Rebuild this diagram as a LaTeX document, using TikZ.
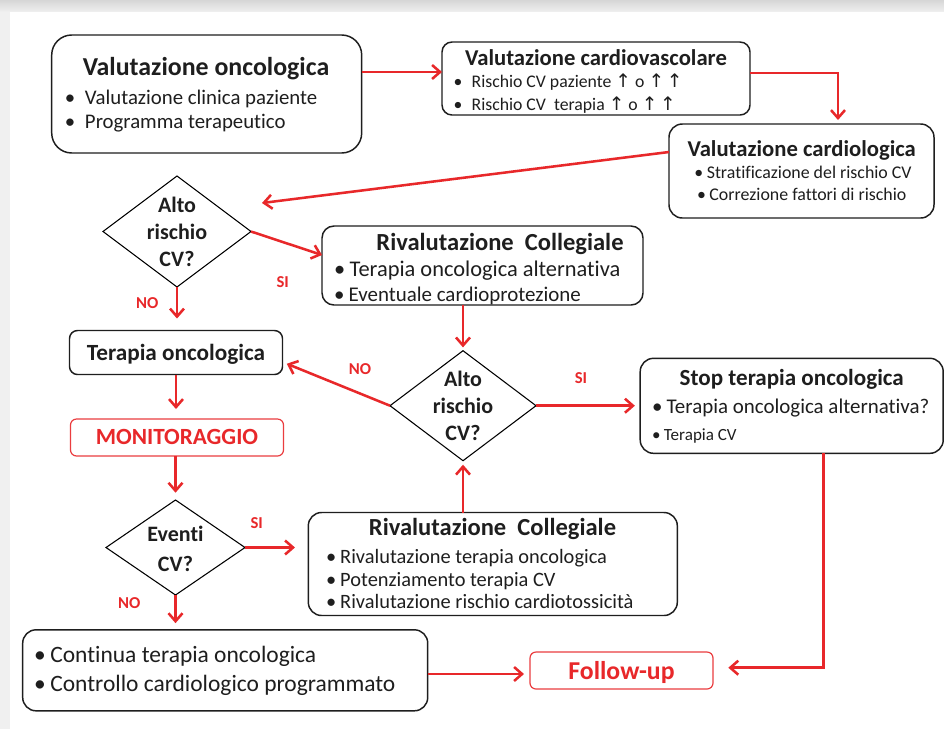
\documentclass[tikz,border=0pt]{standalone}
\usepackage{fontspec}
\setmainfont{Carlito}[Ligatures=NoCommon]
\newfontfamily\arrowfont{DejaVu Sans}
\usetikzlibrary{shapes.geometric,arrows.meta,calc}
\definecolor{ared}{RGB}{232,40,42}
\definecolor{txtc}{RGB}{30,30,30}
\def\pxl{0.75pt}
\newcommand{\fsz}[2]{\fontsize{#1}{#2}\selectfont}
\newcommand{\upar}{{\arrowfont\fontsize{14}{16}\selectfont↑}}
\begin{document}
\begin{tikzpicture}[x=0.75pt,y=-0.75pt,
 box/.style={draw=txtc, line width=1.1pt, inner sep=0pt, outer sep=0pt, fill=white},
 rbox/.style={draw=ared!90, line width=0.9pt, rounded corners=4.5pt, inner sep=0pt, outer sep=0pt},
 dia/.style={diamond, draw=black, line width=0.8pt, inner sep=0pt, outer sep=0pt},
 tx/.style={inner sep=0pt, outer sep=0pt, text=txtc},
 arr/.style={draw=ared, line width=1.9pt, -{Straight Barb[length=6pt,width=10.5pt,line width=1.9pt]}},
 lab/.style={inner sep=0pt, text=ared, font=\fsz{12.5}{15}\bfseries},
]
\useasboundingbox (0,0) rectangle (944,729);
% frame
\fill[gray!12] (0,0) rectangle (944,729);
\shade[top color=gray!32, bottom color=gray!12] (0,0) rectangle (944,12);
\fill[white] (10,12) rectangle (944,729);

% boxes
\node[box, rounded corners=15pt, minimum width=310*\pxl, minimum height=118*\pxl] (A) at (206.7,94) {};
\node[box, rounded corners=7.5pt, minimum width=308*\pxl, minimum height=73*\pxl] (B) at (596,78.5) {};
\node[box, rounded corners=10pt, minimum width=265*\pxl, minimum height=94*\pxl] (C) at (801.5,171) {};
\node[box, rounded corners=9pt, minimum width=321*\pxl, minimum height=79*\pxl] (RC1) at (482.5,265.5) {};
\node[box, rounded corners=6pt, minimum width=213*\pxl, minimum height=44*\pxl] (T) at (176,352.5) {};
\node[rbox, minimum width=213*\pxl, minimum height=37*\pxl] (MON) at (177,437.5) {};
\node[box, rounded corners=10pt, minimum width=303*\pxl, minimum height=95*\pxl] (S) at (791.7,405.8) {};
\node[box, rounded corners=10pt, minimum width=369*\pxl, minimum height=103*\pxl] (RC2) at (492.8,564) {};
\node[box, rounded corners=10pt, minimum width=405*\pxl, minimum height=81*\pxl] (F) at (225.2,670.3) {};
\node[rbox, minimum width=183*\pxl, minimum height=37*\pxl] (FU) at (621.5,670.5) {};

% diamonds
\node[dia, minimum width=148*\pxl, minimum height=111*\pxl] (D1) at (177,231.5) {};
\node[dia, minimum width=146*\pxl, minimum height=110*\pxl] (D2) at (463,405.7) {};
\node[dia, minimum width=139*\pxl, minimum height=95*\pxl] (D3) at (175.5,547.5) {};

% texts box A
\node[tx, anchor=base, font=\fsz{19.4}{23}\bfseries] (At) at (206,75) {Valutazione oncologica};
\node[tx, anchor=base west, font=\fsz{15.6}{19}] (Ab1) at (55,104) {\makebox[22.5pt]{•}Valutazione clinica paziente};
\node[tx, anchor=base west, font=\fsz{15.6}{19}] (Ab2) at (55,128) {\makebox[22.5pt]{•}Programma terapeutico};
% box B
\node[tx, anchor=base, font=\fsz{17}{20}\bfseries] (Bt) at (596,65) {Valutazione cardiovascolare};
\node[tx, anchor=base west, font=\fsz{13.3}{16}] (Bb1) at (444.3,87.3) {\makebox[20.5pt]{•}Rischio CV paziente \upar{} o \upar\hspace{0.15em}\upar};
\node[tx, anchor=base west, font=\fsz{13.3}{16}] (Bb2) at (444.3,110) {\makebox[20.5pt]{•}Rischio CV\ \ terapia \upar{} o \upar\hspace{0.15em}\upar};
% box C
\node[tx, anchor=base, font=\fsz{17}{20}\bfseries] (Ct) at (801.7,156.7) {Valutazione cardiologica};
\node[tx, anchor=base, font=\fsz{13.4}{16}] (Cb1) at (803,178.3) {•\hspace{0.2em}Stratificazione del rischio CV};
\node[tx, anchor=base, font=\fsz{13.4}{16}] (Cb2) at (801.7,200) {•\hspace{0.2em}Correzione fattori di rischio};
% RC1
\node[tx, anchor=base, font=\fsz{18.4}{22}\bfseries] (R1t) at (500,250) {Rivalutazione\ \ Collegiale};
\node[tx, anchor=base west, font=\fsz{16.8}{19}] (R1b1) at (334,276) {•\hspace{0.2em}Terapia oncologica alternativa};
\node[tx, anchor=base west, font=\fsz{15.7}{19}] (R1b2) at (334,301) {•\hspace{0.2em}Eventuale cardioprotezione};
% T, MON
\node[tx, anchor=base, font=\fsz{17.4}{20}\bfseries] (Tt) at (176,360) {Terapia oncologica};
\node[tx, anchor=base, text=ared, font=\fsz{17.4}{20}\bfseries] (Mt) at (177,444) {MONITORAGGIO};
% Stop
\node[tx, anchor=base, font=\fsz{17.3}{20}\bfseries] (St) at (791.7,385) {Stop terapia oncologica};
\node[tx, anchor=base west, font=\fsz{15.7}{19}] (Sb1) at (652,413.3) {•\hspace{0.2em}Terapia oncologica alternativa?};
\node[tx, anchor=base west, font=\fsz{12.8}{15}] (Sb2) at (652,440) {•\hspace{0.2em}Terapia CV};
% RC2
\node[tx, anchor=base, font=\fsz{18.4}{22}\bfseries] (R2t) at (492.5,535) {Rivalutazione\ \ Collegiale};
\node[tx, anchor=base west, font=\fsz{15.3}{18}] (R2b1) at (326,563.3) {•\hspace{0.2em}Rivalutazione terapia oncologica};
\node[tx, anchor=base west, font=\fsz{15.3}{18}] (R2b2) at (326,586) {•\hspace{0.2em}Potenziamento terapia CV};
\node[tx, anchor=base west, font=\fsz{15.3}{18}] (R2b3) at (326,608.3) {•\hspace{0.2em}Rivalutazione rischio cardiotossicità};
% F, FU
\node[tx, anchor=base west, font=\fsz{17.6}{20}] (Fb1) at (34,662.7) {•\hspace{0.2em}Continua terapia oncologica};
\node[tx, anchor=base west, font=\fsz{17.6}{20}] (Fb2) at (34,691.7) {•\hspace{0.2em}Controllo cardiologico programmato};
\node[tx, anchor=base, text=ared, font=\fsz{19.3}{22}\bfseries] (FUt) at (621.5,679) {Follow-up};
% diamond texts
\node[tx, align=center, font=\fsz{16.5}{20.25}\bfseries] (D1t) at (177,231.5) {Alto\\rischio\\CV?};
\node[tx, align=center, font=\fsz{16.5}{20.25}\bfseries] (D2t) at (463,406) {Alto\\rischio\\CV?};
\node[tx, align=center, font=\fsz{16.5}{22.5}\bfseries] (D3t) at (175.5,549) {Eventi\\CV?};

% labels
\node[lab] (l1) at (282.7,281.7) {SI};
\node[lab] (l2) at (147.3,303.3) {NO};
\node[lab] (l3) at (360,369) {NO};
\node[lab] (l4) at (581,377.7) {SI};
\node[lab] (l5) at (256.7,522.7) {SI};
\node[lab] (l6) at (129.3,603.3) {NO};

% connectors
\coordinate (d1in) at (262,203);
\draw[arr] (A.east |- 0,72) -- (B.west |- 0,72);
\draw[arr, shorten >=3pt] (B.east |- 0,73) -| ([xshift=36.5*\pxl]C.north);
\draw[arr] (C.west |- 0,152) -- (d1in);
\draw[arr] (D1.east) -- (RC1.west |- 0,255);
\draw[arr, shorten >=9pt] (D1.south) -- (T.north -| D1.south);
\draw[arr, shorten >=2.5pt] (D2.north |- RC1.south) -- (D2.north);
\draw[arr, shorten >=3.5pt] (D2.west) -- (T.east |- 0,362);
\draw[arr, shorten >=4pt] (D2.east) -- (S.west |- D2.east);
\draw[arr, shorten >=7.5pt] (T.south) -- (MON.north -| T.south);
\draw[arr, shorten >=5.5pt] (MON.south -| D3.north) -- (D3.north);
\draw[arr, shorten >=10pt] (D3.east) -- (RC2.west |- D3.east);
\draw[arr, shorten >=3pt] (D2.south |- RC2.north) -- (D2.south);
\draw[arr, shorten >=5pt] (D3.south) -- (F.north -| D3.south);
\draw[arr, shorten >=4.5pt] (F.east |- 0,674) -- (FU.west |- 0,674);
\draw[arr, shorten >=11.5pt] ([xshift=31.8*\pxl]S.south) |- (FU.east |- 0,667.7);
\end{tikzpicture}
\end{document}
